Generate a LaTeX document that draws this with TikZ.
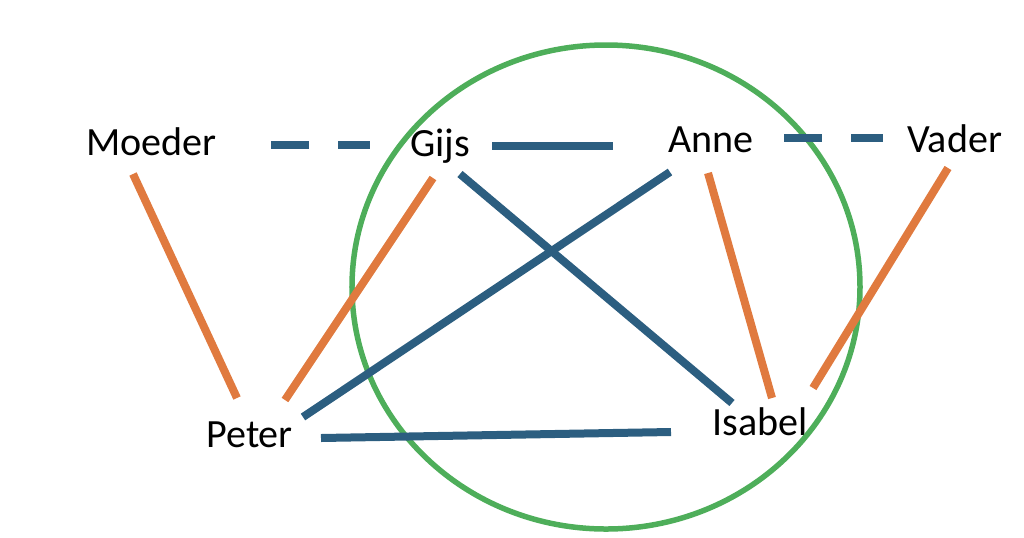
\documentclass[tikz,border=0pt]{standalone}
\usepackage{fontspec}
\setmainfont{Carlito}
\usetikzlibrary{positioning}
\definecolor{famorange}{RGB}{224,122,63}
\definecolor{famblue}{RGB}{44,94,128}
\definecolor{famgreen}{RGB}{78,174,90}
\begin{document}
\begin{tikzpicture}[
  x=0.2mm, y=-0.2mm,
  person/.style={anchor=base west, inner sep=0pt, font=\fontsize{22.8}{26}\selectfont},
  ouder/.style={draw=famorange, line width=1.6mm},
  band/.style={draw=famblue, line width=1.6mm},
  stippel/.style={band, dash pattern=on 7.6mm off 5.8mm},
]
\useasboundingbox (0,0) rectangle (1024,537);

\node[person] (moeder) at (86,155) {Moeder};
\node[person] (gijs) at (410,156) {Gijs};
\node[person] (anne) at (668,152) {Anne};
\node[person] (vader) at (907,152) {Vader};
\node[person] (peter) at (206,447) {Peter};
\node[person] (isabel) at (712,435) {Isabel};

\draw[famgreen, line width=1.1mm] (606,287) ellipse [x radius=50.8mm, y radius=48.4mm];

\draw[ouder] ([shift={(47,19)}]moeder.base west) -- ([shift={(31,-49)}]peter.base west);
\draw[ouder] ([shift={(23,22)}]gijs.base west) -- ([shift={(79,-47)}]peter.base west);
\draw[ouder] ([shift={(40,21)}]anne.base west) -- ([shift={(60,-37)}]isabel.base west);
\draw[ouder] ([shift={(41,16)}]vader.base west) -- ([shift={(101,-47)}]isabel.base west);

\draw[band] ([shift={(2,20)}]anne.base west) -- ([shift={(97,-30)}]peter.base west);
\draw[band] ([shift={(50,18)}]gijs.base west) -- ([shift={(20,-32)}]isabel.base west);
\draw[band] ([shift={(115,-9)}]peter.base west) -- ([shift={(-41,-3)}]isabel.base west);
\draw[band] ([shift={(82,-10)}]gijs.base west) -- ([shift={(-55,-6)}]anne.base west);

\draw[stippel] ([shift={(185,-10)}]moeder.base west) -- ([shift={(-40,-11)}]gijs.base west);
\draw[stippel] ([shift={(116,-14)}]anne.base west) -- ([shift={(-24,-14)}]vader.base west);

\end{tikzpicture}
\end{document}
